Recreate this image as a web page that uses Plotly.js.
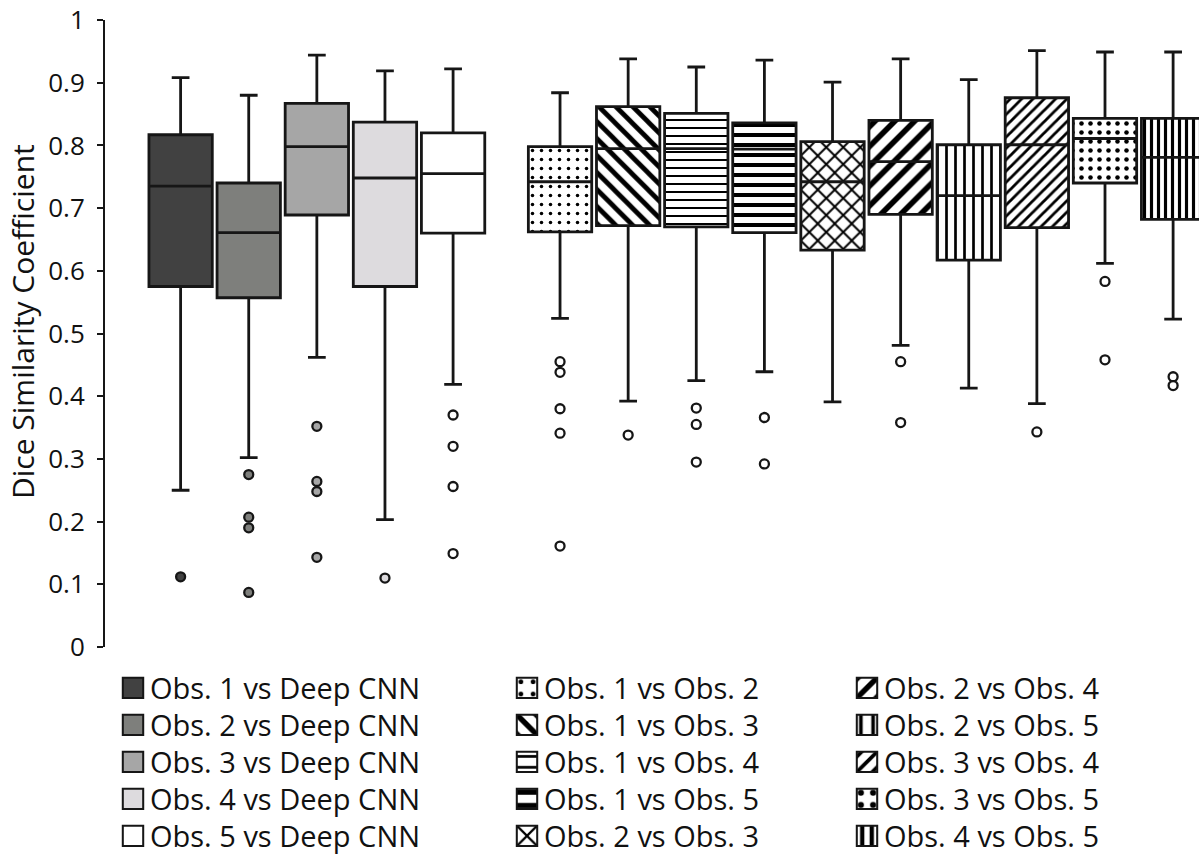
<!DOCTYPE html>
<html>
<head>
<meta charset="utf-8">
<script src="https://cdn.plot.ly/plotly-3.0.1.min.js"></script>
<style>html,body{margin:0;padding:0;background:#fff;}#chart{width:1199px;height:854px;}</style>
</head>
<body>
<div id="chart"></div>
<script>
// ---- data ----
const names = [
  'Obs. 1 vs Deep CNN','Obs. 2 vs Deep CNN','Obs. 3 vs Deep CNN','Obs. 4 vs Deep CNN','Obs. 5 vs Deep CNN',
  'Obs. 1 vs Obs. 2','Obs. 1 vs Obs. 3','Obs. 1 vs Obs. 4','Obs. 1 vs Obs. 5','Obs. 2 vs Obs. 3',
  'Obs. 2 vs Obs. 4','Obs. 2 vs Obs. 5','Obs. 3 vs Obs. 4','Obs. 3 vs Obs. 5','Obs. 4 vs Obs. 5'
];
const lowerWhisker = [0.250,0.302,0.462,0.203,0.419,0.524,0.392,0.425,0.439,0.391,0.481,0.413,0.388,0.612,0.523];
const q1           = [0.575,0.557,0.689,0.575,0.660,0.662,0.672,0.670,0.661,0.633,0.690,0.617,0.669,0.740,0.682];
const median       = [0.735,0.661,0.798,0.748,0.755,0.742,0.795,0.795,0.794,0.742,0.774,0.720,0.801,0.811,0.781];
const q3           = [0.817,0.740,0.867,0.837,0.820,0.798,0.862,0.851,0.836,0.806,0.840,0.801,0.876,0.843,0.843];
const upperWhisker = [0.908,0.880,0.944,0.919,0.922,0.884,0.938,0.925,0.936,0.901,0.938,0.905,0.951,0.949,0.949];
const outliers = [
  [0.112],
  [0.275,0.207,0.190,0.087],
  [0.352,0.264,0.248,0.143],
  [0.110],
  [0.370,0.320,0.256,0.149],
  [0.455,0.438,0.380,0.341,0.161],
  [0.338],
  [0.381,0.355,0.295],
  [0.366,0.292],
  [],
  [0.455,0.358],
  [],
  [0.343],
  [0.583,0.458],
  [0.431,0.417]
];
const yTickVals = [0, 0.1, 0.2, 0.3, 0.4, 0.5, 0.6, 0.7, 0.8, 0.9, 1];
const yTickText = ['0', '0.1', '0.2', '0.3', '0.4', '0.5', '0.6', '0.7', '0.8', '0.9', '1'];
const yTitle = 'Dice Similarity Coefficient';

// ---- styles ----
const fills = ['#414141','#7e7f7c','#a6a6a6','#dddbde','#ffffff',
  '#fff','#fff','#fff','#fff','#fff','#fff','#fff','#fff','#fff','#fff'];
const patterns = [
  {shape:''},{shape:''},{shape:''},{shape:''},{shape:''},
  {shape:'.', size:9, solidity:0.12},
  {shape:'\\', size:12, solidity:0.4},
  {shape:'-', size:8, solidity:0.25},
  {shape:'-', size:10, solidity:0.4},
  {shape:'x', size:12, solidity:0.3},
  {shape:'/', size:14, solidity:0.4},
  {shape:'|', size:9, solidity:0.3},
  {shape:'/', size:8, solidity:0.35},
  {shape:'.', size:9, solidity:0.2},
  {shape:'|', size:7, solidity:0.45}
];
const GAP = 0.57;
const pos = i => i < 5 ? i : i + GAP;
const BW = 0.93;
const LINE = '#161616';

const traces = [];
names.forEach((n, i) => {
  const p = patterns[i];
  traces.push({
    type: 'bar', name: n, x: [pos(i)], base: [q1[i]], y: [q3[i] - q1[i]],
    width: BW, legend: i === 0 ? 'legend' : 'legend' + (i + 1),
    marker: {
      color: fills[i],
      line: {color: LINE, width: 1.2},
      pattern: p.shape ? {shape: p.shape, size: p.size, solidity: p.solidity, fgcolor: '#000', bgcolor: '#fff', fillmode: 'replace'} : {shape: ''}
    },
    hoverinfo: 'skip'
  });
  traces.push({
    type: 'box', name: n, x: [pos(i)], q1: [q1[i]], median: [median[i]], q3: [q3[i]],
    lowerfence: [lowerWhisker[i]], upperfence: [upperWhisker[i]],
    width: BW, whiskerwidth: 0.28, fillcolor: 'rgba(0,0,0,0)',
    line: {color: LINE, width: 2.8}, boxpoints: false, showlegend: false, hoverinfo: 'skip'
  });
  if (outliers[i].length) {
    traces.push({
      type: 'scatter', mode: 'markers', x: outliers[i].map(() => pos(i)), y: outliers[i],
      marker: {symbol: 'circle', size: 9, color: i < 4 ? fills[i] : '#fff', line: {color: LINE, width: 2.3}},
      showlegend: false, hoverinfo: 'skip'
    });
  }
});

const font = {family: '"Open Sans", "Noto Sans", sans-serif', color: '#111'};

const layout = {
  width: 1199, height: 854,
  margin: {l: 105, r: 0, t: 20, b: 207, autoexpand: false},
  paper_bgcolor: '#fff', plot_bgcolor: '#fff',
  font: font,
  barmode: 'overlay', boxmode: 'overlay',
  xaxis: {range: [-1.11, 14.95], visible: false, fixedrange: true},
  yaxis: {
    range: [0, 1], tickmode: 'array', tickvals: yTickVals, ticktext: yTickText,
    showgrid: false, zeroline: false,
    showline: true, linecolor: LINE, linewidth: 2, ticks: 'outside', ticklen: 6, tickwidth: 2, tickcolor: LINE,
    tickfont: Object.assign({}, font, {size: 26}), ticklabelstandoff: 7, ticklabeloverflow: 'allow'
  },
  annotations: [{
    text: yTitle, xref: 'paper', yref: 'paper', x: (22 - 105) / 1094, y: (647 - 322) / 627,
    xanchor: 'center', yanchor: 'middle', textangle: -90, showarrow: false,
    font: Object.assign({}, font, {size: 30})
  }],
  showlegend: true
};

// one legend per entry: 3 columns x 5 rows
const colX = [110, 504, 844];
const rowY = [688, 725, 762, 799, 836];
names.forEach((n, i) => {
  const key = i === 0 ? 'legend' : 'legend' + (i + 1);
  layout[key] = {
    xref: 'container', yref: 'container', xanchor: 'left', yanchor: 'middle',
    x: colX[Math.floor(i / 5)] / 1199, y: 1 - rowY[i % 5] / 854,
    bgcolor: 'rgba(0,0,0,0)', borderwidth: 0,
    font: Object.assign({}, font, {size: 29})
  };
});

Plotly.newPlot('chart', traces, layout, {staticPlot: true, displayModeBar: false}).then(gd => {
  // enlarge the legend swatches to the reference size and tuck them next to the text
  gd.querySelectorAll('.legendpoints path').forEach(p => {
    const t = p.getAttribute('transform') || '';
    p.setAttribute('transform', t + ' translate(3,0) scale(1.7)');
  });
});
</script>
</body>
</html>
